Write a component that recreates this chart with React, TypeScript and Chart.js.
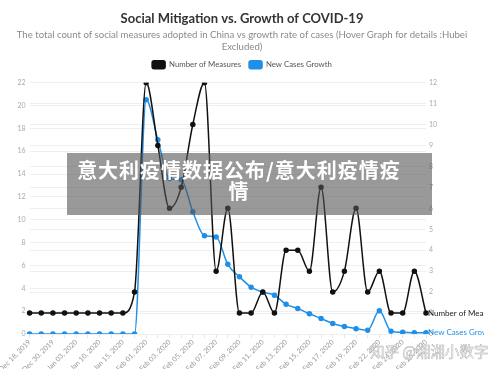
import React, { useEffect, useRef } from 'react';
import { Chart, registerables } from 'chart.js';

Chart.register(...registerables);

const dates = [
  'Dec 18, 2019', 'Dec 24, 2019', 'Dec 30, 2019', 'Jan 01, 2020', 'Jan 03, 2020',
  'Jan 07, 2020', 'Jan 10, 2020', 'Jan 13, 2020', 'Jan 15, 2020', 'Jan 23, 2020',
  'Feb 01, 2020', 'Feb 02, 2020', 'Feb 03, 2020', 'Feb 04, 2020', 'Feb 05, 2020',
  'Feb 06, 2020', 'Feb 07, 2020', 'Feb 08, 2020', 'Feb 09, 2020', 'Feb 10, 2020',
  'Feb 11, 2020', 'Feb 12, 2020', 'Feb 13, 2020', 'Feb 14, 2020', 'Feb 15, 2020',
  'Feb 16, 2020', 'Feb 17, 2020', 'Feb 18, 2020', 'Feb 19, 2020', 'Feb 20, 2020',
  'Feb 22, 2020', 'Feb 23, 2020', 'Feb 24, 2020', 'Feb 25, 2020', 'Feb 26, 2020',
];

const numberOfMeasures = [
  1, 1, 1, 1, 1, 1, 1, 1, 1, 2,
  12, 9, 6, 7, 10, 12, 3, 6, 1, 1,
  2, 1, 4, 4, 3, 7, 2, 3, 6, 2,
  3, 1, 1, 3, 1,
];

const newCasesGrowth = [
  0, 0, 0, 0, 0, 0, 0, 0, 0, 0,
  20.5, 17, 13.6, 13.5, 10.7, 8.6, 8.5, 6.1, 5.0, 4.1,
  3.65, 3.4, 2.6, 2.24, 1.77, 1.36, 0.92, 0.65, 0.47, 0.32,
  2.03, 0.24, 0.15, 0.12, 0.12,
];

// zero-width non-joiner keeps the font from forming a "ti" ligature
const titleText = 'Social Mitiga\u200Ction vs. Growth of COVID-19';
const subtitleLines = [
  'The total count of social measures adopted in China vs growth rate of cases (Hover Graph for details :Hubei',
  'Excluded)',
];
const seriesNames = ['Number of Measures', 'New Cases Growth'];
const overlayLines = ['意大利疫情数据公布/意大利疫情疫', '情'];
const watermark = '知乎 @湘湘小数字';

const FONT = 'Lato, "Open Sans", sans-serif';
const BLUE = '#1f8fe8';
const BLACK = '#111111';

const endLabels = {
  id: 'endLabels',
  afterDatasetsDraw(chart: any) {
    const ctx = chart.ctx;
    chart.data.datasets.forEach((ds: any, i: number) => {
      const meta = chart.getDatasetMeta(i);
      const pt = meta.data[meta.data.length - 1];
      if (!pt) return;
      ctx.save();
      ctx.font = '8px ' + FONT;
      ctx.fillStyle = i === 0 ? '#222' : BLUE;
      ctx.textBaseline = 'middle';
      ctx.textAlign = 'left';
      ctx.fillText(ds.label, pt.x + 2, pt.y);
      ctx.restore();
    });
  },
};

const legendGap = {
  id: 'legendGap',
  beforeLayout(chart: any) {
    const lg = chart.legend;
    if (lg && !lg._gapPatched) {
      const orig = lg.fit.bind(lg);
      lg.fit = function () {
        orig();
        this.height += 4;
      };
      lg._gapPatched = true;
    }
  },
};

export default function App() {
  const ref = useRef<HTMLCanvasElement | null>(null);

  useEffect(() => {
    if (!ref.current) return;
    const chart = new Chart(ref.current, {
      type: 'line',
      data: {
        labels: dates,
        datasets: [
          {
            label: seriesNames[0],
            data: numberOfMeasures,
            yAxisID: 'yRight',
            borderColor: BLACK,
            backgroundColor: BLACK,
            pointBackgroundColor: BLACK,
            pointBorderColor: BLACK,
            pointRadius: 2,
            borderWidth: 1.5,
            cubicInterpolationMode: 'monotone',
          },
          {
            label: seriesNames[1],
            data: newCasesGrowth,
            yAxisID: 'yLeft',
            borderColor: BLUE,
            backgroundColor: BLUE,
            pointBackgroundColor: BLUE,
            pointBorderColor: BLUE,
            pointRadius: 2,
            borderWidth: 1.5,
            cubicInterpolationMode: 'monotone',
          },
        ],
      },
      options: {
        animation: false,
        responsive: true,
        maintainAspectRatio: false,
        layout: { padding: { top: 10, left: 0, right: 0, bottom: 0 } },
        font: { family: FONT },
        plugins: {
          title: {
            display: true,
            text: titleText,
            color: '#333',
            font: { family: FONT, size: 13, weight: 'bold' },
            padding: { top: 1, bottom: 3 },
          },
          subtitle: {
            display: true,
            text: subtitleLines,
            color: '#8a8a8a',
            font: { family: FONT, size: 9.6 },
            padding: { top: 0, bottom: 0 },
          },
          legend: {
            display: true,
            labels: {
              boxWidth: 13,
              boxHeight: 8,
              useBorderRadius: true,
              borderRadius: 2,
              color: '#555',
              font: { family: FONT, size: 7.8 },
              padding: 8,
            },
          },
          tooltip: { enabled: false },
        },
        scales: {
          x: {
            type: 'category',
            offset: false,
            grid: { display: true, drawOnChartArea: false, tickLength: 4, color: '#e6e6e6' },
            border: { display: false },
            ticks: {
              autoSkip: false,
              maxRotation: 45,
              minRotation: 45,
              color: '#999',
              font: { family: FONT, size: 7 },
              padding: 0,
              callback: (_v: any, i: number) => (i % 2 === 0 ? dates[i] : ''),
            },
            afterFit: (s: any) => { s.height = 35; },
          },
          yLeft: {
            position: 'left',
            min: 0,
            max: 22,
            ticks: { stepSize: 2, color: '#aaa', font: { family: FONT, size: 7 }, padding: 4 },
            grid: { color: '#efefef', drawTicks: false },
            border: { display: false },
            afterFit: (s: any) => { s.width = 28; },
          },
          yRight: {
            position: 'right',
            min: 0,
            max: 12,
            ticks: { stepSize: 1, color: '#aaa', font: { family: FONT, size: 7 }, padding: 3 },
            grid: { color: '#efefef', drawTicks: false },
            border: { display: false },
            afterFit: (s: any) => { s.width = 58; },
          },
        },
      },
      plugins: [endLabels, legendGap],
    } as any);
    return () => chart.destroy();
  }, []);

  return (
    <div style={{ position: 'fixed', left: 0, top: 0, width: 500, height: 369, background: '#fff', overflow: 'hidden' }}>
      <div style={{ position: 'absolute', left: 0, top: 0, width: 484, height: 369 }}>
        <canvas ref={ref} />
      </div>
      <div
        style={{
          position: 'absolute', left: 67, top: 153, width: 365, height: 62,
          background: 'rgba(85,85,85,0.6)',
        }}
      >
        <div
          style={{
            position: 'absolute', left: 0, top: 6, width: 344, textAlign: 'center',
            color: '#fff', fontFamily: '"Noto Sans CJK SC", sans-serif', fontWeight: 'bold',
            fontSize: 20, lineHeight: '21px', letterSpacing: 1, whiteSpace: 'nowrap',
          }}
        >
          {overlayLines[0]}
          <br />
          {overlayLines[1]}
        </div>
      </div>
      <div
        style={{
          position: 'absolute', left: 370, top: 340, fontSize: 14.5, whiteSpace: 'nowrap',
          fontFamily: '"Noto Sans CJK SC", sans-serif', color: 'rgba(255,255,255,0.55)',
          WebkitTextStroke: '0.5px #b0b0b0',
        }}
      >
        {watermark}
      </div>
    </div>
  );
}
